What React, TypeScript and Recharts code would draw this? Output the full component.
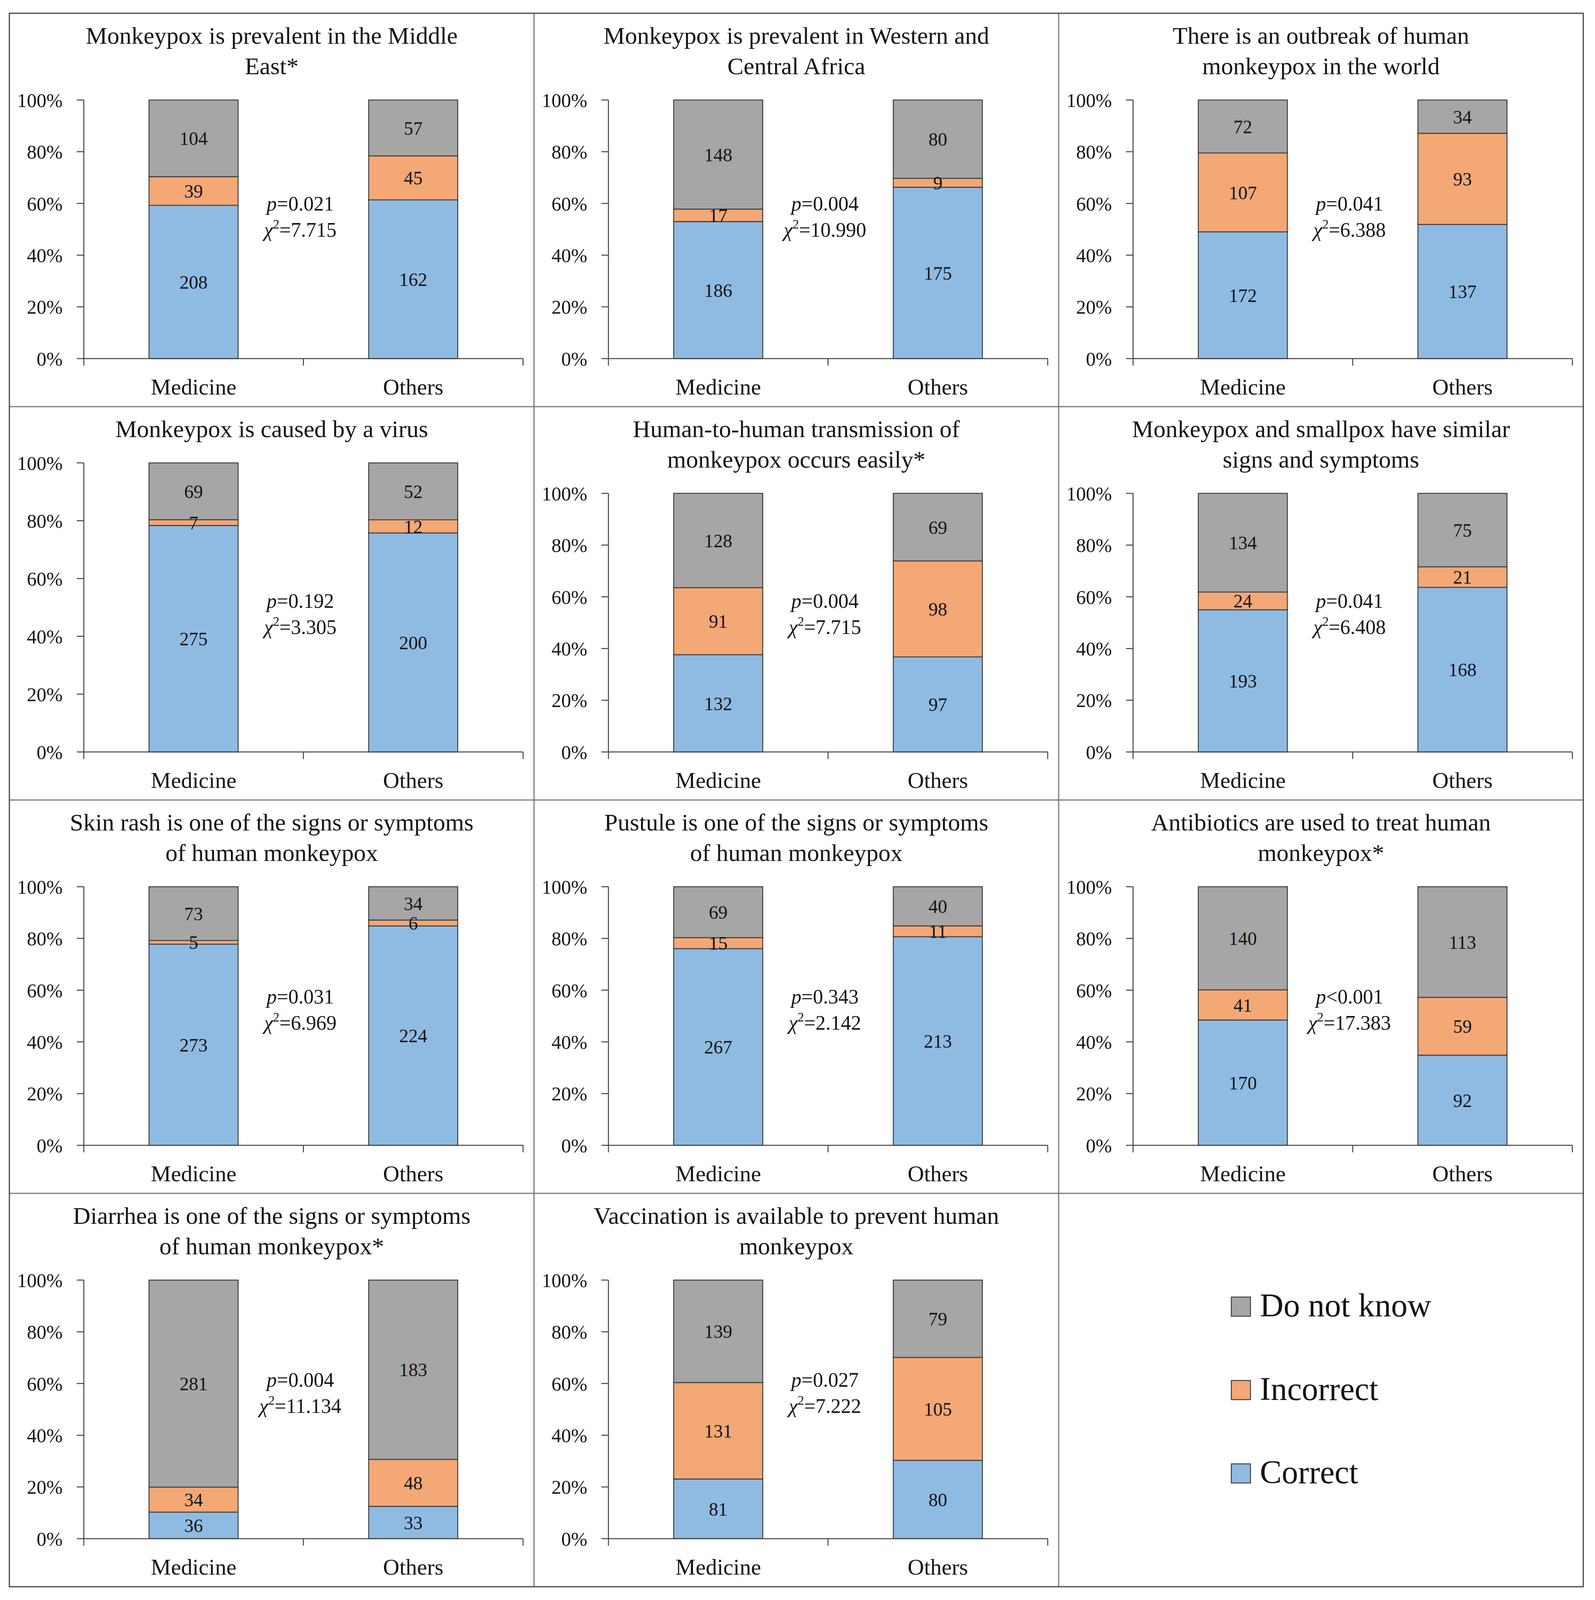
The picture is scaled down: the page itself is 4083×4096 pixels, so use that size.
import React from 'react';
import { BarChart, Bar, XAxis, YAxis, LabelList } from 'recharts';

// ---------- data ----------
const groups = ['Medicine', 'Others'];
const seriesKeys = ['correct', 'incorrect', 'dontKnow'];
const seriesNames = ['Correct', 'Incorrect', 'Do not know'];
const seriesColors = ['#8FBBE3', '#F3A875', '#A6A6A6'];

const titles: string[][] = [
  ['Monkeypox is prevalent in the Middle', 'East*'],
  ['Monkeypox is prevalent in Western and', 'Central Africa'],
  ['There is an outbreak of human', 'monkeypox in the world'],
  ['Monkeypox is caused by a virus'],
  ['Human-to-human transmission of', 'monkeypox occurs easily*'],
  ['Monkeypox and smallpox have similar', 'signs and symptoms'],
  ['Skin rash is one of the signs or symptoms', 'of human monkeypox'],
  ['Pustule is one of the signs or symptoms', 'of human monkeypox'],
  ['Antibiotics are used to treat human', 'monkeypox*'],
  ['Diarrhea is one of the signs or symptoms', 'of human monkeypox*'],
  ['Vaccination is available to prevent human', 'monkeypox'],
];

// [Medicine, Others]
const correctCounts = [
  [208, 162], [186, 175], [172, 137], [275, 200], [132, 97], [193, 168],
  [273, 224], [267, 213], [170, 92], [36, 33], [81, 80],
];
const incorrectCounts = [
  [39, 45], [17, 9], [107, 93], [7, 12], [91, 98], [24, 21],
  [5, 6], [15, 11], [41, 59], [34, 48], [131, 105],
];
const dontKnowCounts = [
  [104, 57], [148, 80], [72, 34], [69, 52], [128, 69], [134, 75],
  [73, 34], [69, 40], [140, 113], [281, 183], [139, 79],
];

const pOps = ['=', '=', '=', '=', '=', '=', '=', '=', '<', '=', '='];
const pValues = ['0.021', '0.004', '0.041', '0.192', '0.004', '0.041', '0.031', '0.343', '0.001', '0.004', '0.027'];
const chiValues = ['7.715', '10.990', '6.388', '3.305', '7.715', '6.408', '6.969', '2.142', '17.383', '11.134', '7.222'];

const yTicks = [0, 0.2, 0.4, 0.6, 0.8, 1];

// ---------- layout ----------
const FONT = "'Liberation Serif', 'Times New Roman', serif";
const TEXT = '#141414';
const AXIS = '#404040';
const GRID_L = 24;
const GRID_T = 34;
const COL_W = 1343;
const ROW_H = 1007;
const Y_AXIS_W = 190.5;
const PLOT_R = 1315;
const PLOT_B = 884;
const X_AXIS_H = 100;
const PLOT_W = PLOT_R - Y_AXIS_W;
const ROW_P_SHIFT = [0, 10, 16, -10];

function CatTick(props: any) {
  const { x, y, payload } = props;
  const half = PLOT_W / groups.length / 2;
  const isLast = payload.index === groups.length - 1;
  return (
    <g>
      <line x1={x - half} x2={x - half} y1={y} y2={y + 18} stroke={AXIS} strokeWidth={2.5} />
      {isLast && <line x1={x + half} x2={x + half} y1={y} y2={y + 18} stroke={AXIS} strokeWidth={2.5} />}
      <text x={x} y={y + 92} textAnchor="middle" fontSize={58} fontFamily={FONT} fill={TEXT}>
        {payload.value}
      </text>
    </g>
  );
}

function Panel({ i }: { i: number }) {
  const col = i % 3;
  const row = Math.floor(i / 3);
  const data = groups.map((g, j) => ({
    group: g,
    correct: correctCounts[i][j],
    incorrect: incorrectCounts[i][j],
    dontKnow: dontKnowCounts[i][j],
  }));
  const plotTop = titles[i].length === 1 ? 144 : 222;
  return (
    <div style={{ position: 'absolute', left: GRID_L + col * COL_W, top: GRID_T + row * ROW_H, width: COL_W, height: ROW_H }}>
      <BarChart
        width={COL_W}
        height={ROW_H}
        data={data}
        stackOffset="expand"
        barSize={228}
        margin={{ top: plotTop, right: COL_W - PLOT_R, left: 0, bottom: ROW_H - PLOT_B - X_AXIS_H }}
      >
        <XAxis
          dataKey="group"
          height={X_AXIS_H}
          interval={0}
          tickLine={false}
          tickSize={0}
          tickMargin={0}
          axisLine={{ stroke: AXIS, strokeWidth: 2.5 }}
          tick={(p: any) => <CatTick {...p} />}
        />
        <YAxis
          type="number"
          domain={[0, 1]}
          ticks={yTicks}
          interval={0}
          width={Y_AXIS_W}
          tickSize={18}
          tickMargin={36}
          axisLine={{ stroke: AXIS, strokeWidth: 2.5 }}
          tickLine={{ stroke: AXIS, strokeWidth: 2.5 }}
          tick={{ fontSize: 50, fontFamily: FONT, fill: TEXT }}
          tickFormatter={(v: number) => `${Math.round(v * 100)}%`}
        />
        {seriesKeys.map((k, s) => (
          <Bar key={k} dataKey={k} name={seriesNames[s]} stackId="a" fill={seriesColors[s]} stroke={AXIS} strokeWidth={2.5} isAnimationActive={false}>
            <LabelList dataKey={k} position="center" fontSize={48} fontFamily={FONT} fill={TEXT} stroke="none" />
          </Bar>
        ))}
      </BarChart>
    </div>
  );
}

function Overlay() {
  const nCols = 3;
  const nRows = 4;
  const right = GRID_L + nCols * COL_W;
  const bottom = GRID_T + nRows * ROW_H;
  const legendOrder = [2, 1, 0];
  return (
    <svg width={4083} height={4096} style={{ position: 'absolute', left: 0, top: 0, pointerEvents: 'none' }} fontFamily={FONT}>
      {[1, 2].map((c) => (
        <line key={'c' + c} x1={GRID_L + c * COL_W} x2={GRID_L + c * COL_W} y1={GRID_T} y2={bottom} stroke="#7a7a7a" strokeWidth={3} />
      ))}
      {[1, 2, 3].map((r) => (
        <line key={'r' + r} x1={GRID_L} x2={right} y1={GRID_T + r * ROW_H} y2={GRID_T + r * ROW_H} stroke="#7a7a7a" strokeWidth={3} />
      ))}
      <rect x={GRID_L} y={GRID_T} width={right - GRID_L} height={bottom - GRID_T} fill="none" stroke="#454545" strokeWidth={3} />
      {titles.map((t, i) => {
        const col = i % 3;
        const row = Math.floor(i / 3);
        const px = GRID_L + col * COL_W;
        const py = GRID_T + row * ROW_H;
        const cx = px + COL_W / 2;
        const pcx = px + Y_AXIS_W + PLOT_W / 2 - 8;
        const shift = ROW_P_SHIFT[row];
        return (
          <g key={i}>
            {t.map((line, li) => (
              <text key={li} x={cx} y={py + 78 + li * 78} textAnchor="middle" fontSize={62} fill={TEXT}>{line}</text>
            ))}
            <text x={pcx} y={py + 505 + shift} textAnchor="middle" fontSize={52} fill={TEXT}>
              <tspan fontStyle="italic">p</tspan>
              <tspan>{pOps[i] + pValues[i]}</tspan>
            </text>
            <text x={pcx} y={py + 572 + shift} textAnchor="middle" fontSize={52} fill={TEXT}>
              <tspan fontStyle="italic">χ</tspan>
              <tspan fontSize={33} dy={-21}>2</tspan>
              <tspan dy={21}>{'=' + chiValues[i]}</tspan>
            </text>
          </g>
        );
      })}
      {legendOrder.map((s, k) => {
        const cy = 3345 + k * 213.5;
        return (
          <g key={s}>
            <rect x={3152} y={cy - 24.5} width={49} height={49} fill={seriesColors[s]} stroke={AXIS} strokeWidth={2.5} />
            <text x={3225} y={cy + 25} fontSize={84} fill={TEXT}>{seriesNames[s]}</text>
          </g>
        );
      })}
    </svg>
  );
}

export default function App() {
  return (
    <div style={{ position: 'absolute', left: 0, top: 0, width: 4083, height: 4096, background: '#fff', fontFamily: FONT }}>
      {titles.map((_, i) => (
        <Panel key={i} i={i} />
      ))}
      <Overlay />
    </div>
  );
}
